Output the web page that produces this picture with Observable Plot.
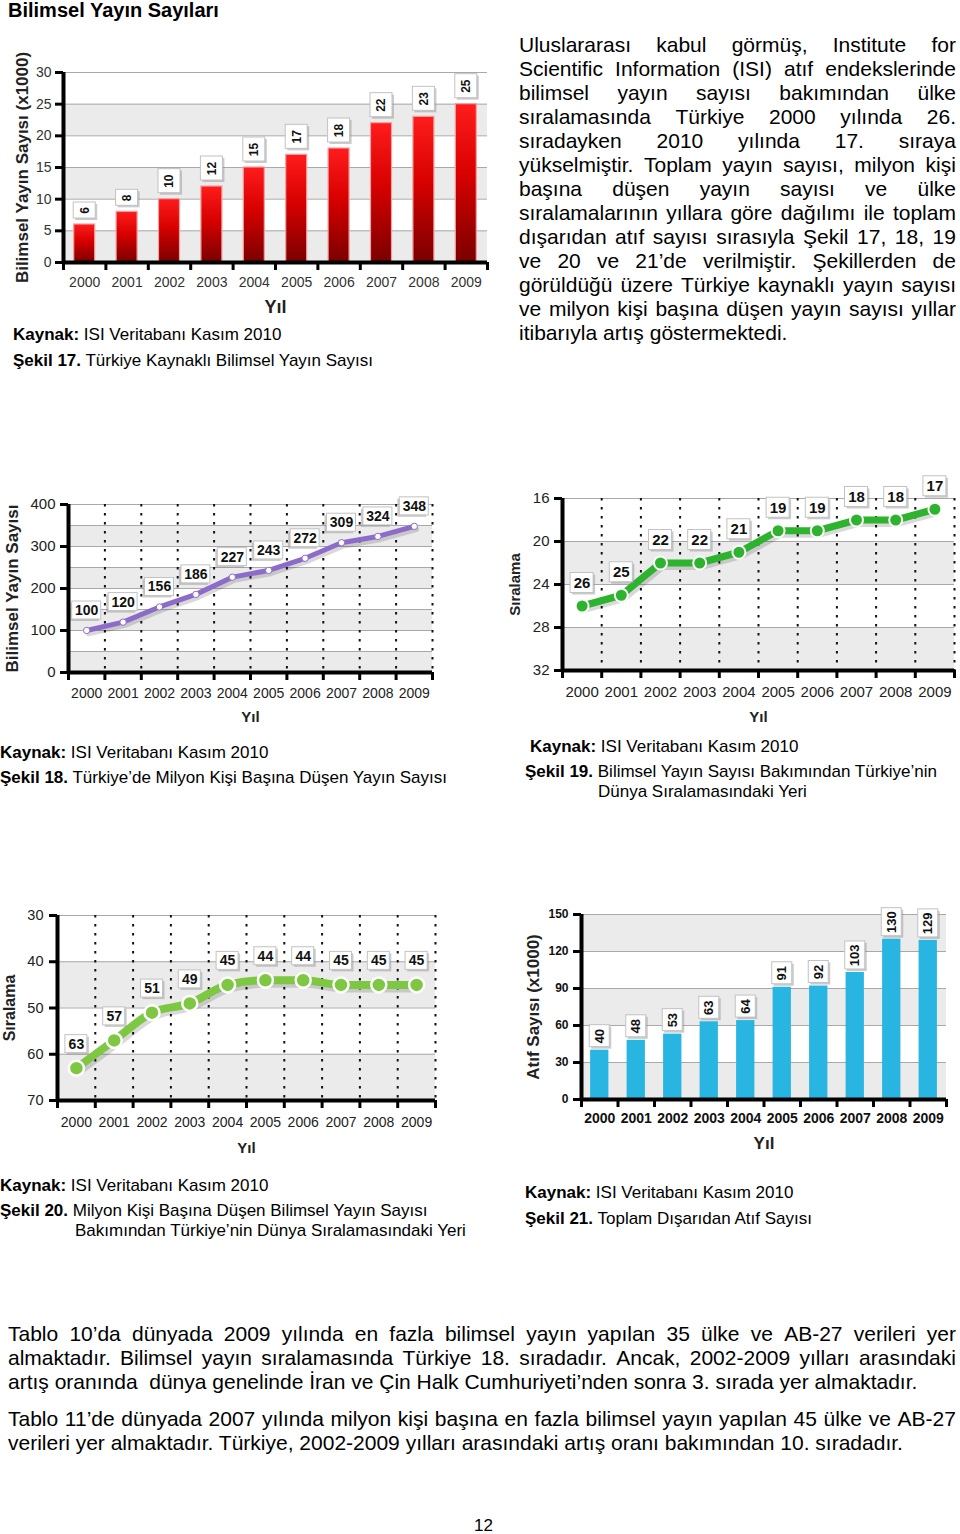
<!DOCTYPE html>
<html><head><meta charset="utf-8">
<script src="https://cdn.jsdelivr.net/npm/d3@7"></script>
<script src="https://cdn.jsdelivr.net/npm/@observablehq/plot@0.6"></script>
<style>
body{margin:0;background:#fff;}
#page{position:relative;width:960px;height:1534px;font-family:'Liberation Sans',Arial,Helvetica,sans-serif;color:#000;overflow:hidden;background:#fff;}
.abs{position:absolute;white-space:pre;}
.cap{font-size:17px;line-height:20px;}
.par{font-size:21px;line-height:24px;}
.jl{display:flex;justify-content:space-between;white-space:pre;}
</style></head><body><div id="page"></div>
<script>
// ---------------- DATA ----------------
const years = [2000, 2001, 2002, 2003, 2004, 2005, 2006, 2007, 2008, 2009];
const yayinSayisi = [6, 8, 10, 12, 15, 17, 18, 22, 23, 25];              // Şekil 17 (x1000)
const milyonBasina = [100, 120, 156, 186, 227, 243, 272, 309, 324, 348];  // Şekil 18
const siralamaYayin = [26, 25, 22, 22, 21, 19, 19, 18, 18, 17];           // Şekil 19
const siralamaMilyon = [63, 57, 51, 49, 45, 44, 44, 45, 45, 45];          // Şekil 20
const atifSayisi = [40, 48, 53, 63, 64, 91, 92, 103, 130, 129];           // Şekil 21 (x1000)

const ticks17 = [0, 5, 10, 15, 20, 25, 30];
const grid17 = [5, 10, 15, 20, 25, 30];
const bands17 = [[0, 5], [10, 15], [20, 25]];
const ticks18 = [0, 100, 200, 300, 400];
const grid18 = [50, 100, 150, 200, 250, 300, 350, 400];
const bands18 = [[0, 50], [100, 150], [200, 250], [300, 350]];
const ticks19 = [16, 20, 24, 28, 32];
const grid19 = [16, 20, 24, 28];
const bands19 = [[20, 24], [28, 32]];
const ticks20 = [30, 40, 50, 60, 70];
const grid20 = [30, 40, 50, 60];
const bands20 = [[40, 50], [60, 70]];
const ticks21 = [0, 30, 60, 90, 120, 150];
const grid21 = [30, 60, 90, 120, 150];
const bands21 = [[0, 30], [60, 90], [120, 150]];

const FONT = "'Liberation Sans', Arial, Helvetica, sans-serif";
const page = document.getElementById("page");
const bounds = years.map(y => y - 0.5).concat([years[years.length - 1] + 0.5]);
const table = vals => years.map((year, i) => ({year, value: vals[i], label: String(vals[i])}));

function addDiv(cls, left, top, html, extra) {
  const d = document.createElement("div");
  d.className = "abs " + cls;
  d.style.left = left + "px"; d.style.top = top + "px";
  if (extra) Object.assign(d.style, extra);
  d.innerHTML = html;
  page.appendChild(d);
  return d;
}
function place(svg, left, top) {
  const w = document.createElement("div");
  w.className = "abs"; w.style.left = left + "px"; w.style.top = top + "px";
  w.appendChild(svg); page.appendChild(w);
}
function addGradient(svg, id, stops) {
  const g = d3.select(svg).insert("defs", ":first-child").append("linearGradient")
    .attr("id", id).attr("x1", 0).attr("y1", 0).attr("x2", 0).attr("y2", 1);
  for (const [o, c] of stops) g.append("stop").attr("offset", o).attr("stop-color", c);
}

function base(o) {
  const m = [
    Plot.rect(o.bands, {y1: d => d[0], y2: d => d[1], fill: "#ebebeb"}),
    Plot.gridY(o.grid, {stroke: "#a9a9a9", strokeOpacity: 1, strokeWidth: 1})
  ];
  if (o.dotted) m.push(Plot.gridX(bounds.slice(1), {stroke: "#111", strokeOpacity: 1, strokeWidth: 2, strokeDasharray: "2.5,6.5"}));
  return m;
}
function axes(o) {
  return [
    Plot.ruleX([bounds[0]], {stroke: "#000", strokeWidth: 4}),
    Plot.ruleY([o.yBase], {stroke: "#000", strokeWidth: 4}),
    Plot.axisY(o.yTicks, {anchor: "left", tickSize: 8, tickPadding: o.yPad, strokeWidth: 3, stroke: "#000", color: o.color, fill: o.color, fontSize: o.yFont, fontWeight: o.bold ? "bold" : "normal", label: null}),
    Plot.axisX(bounds, {anchor: "bottom", tickSize: 8, strokeWidth: 3, stroke: "#000", tickFormat: () => "", label: null}),
    Plot.axisX(years, {anchor: "bottom", tickSize: 0, tickPadding: o.xPad, tickFormat: d => String(d), fontSize: o.xFont, fontWeight: o.bold ? "bold" : "normal", color: o.color, fill: o.color, label: null}),
    Plot.text([o.yLabel], {text: d => d, frameAnchor: "left", dx: o.yLabelDx, rotate: -90, textAnchor: "middle", lineAnchor: "middle", fontSize: o.yLabelSize, fontWeight: "bold", fill: "#222"}),
    Plot.text(["Yıl"], {text: d => d, frameAnchor: "bottom", dy: o.xLabelDy, textAnchor: "middle", lineAnchor: "middle", fontSize: o.xLabelSize, fontWeight: "bold", fill: "#222"})
  ];
}
function boxes(data, o) {
  const m = [];
  for (const [h, g] of d3.group(data, d => o.h(d.label))) {
    const ins = (o.band - o.w) / 2;
    const common = {x1: d => d.year - 0.5, x2: d => d.year + 0.5, y1: "value", y2: "value",
      insetLeft: ins, insetRight: ins, insetTop: -(o.gap + h), insetBottom: o.gap};
    m.push(Plot.rect(g, {...common, dx: o.sx, dy: o.sy, fill: "#8c8c8c", fillOpacity: 0.45}));
    m.push(Plot.rect(g, {...common, fill: "#fff", stroke: "#c2c2c2", strokeWidth: 1}));
    m.push(Plot.text(g, {x: "year", y: "value", text: "label", dy: -(o.gap + h / 2), rotate: o.rotate || 0,
      fontSize: o.fs, fontWeight: "bold", fill: "#111"}));
  }
  return m;
}
const style = {fontFamily: FONT, background: "transparent", maxWidth: "none", overflow: "visible"};

// ---------------- TEXT ----------------
addDiv("", 8, 0, "Bilimsel Yayın Sayıları", {fontSize: "20px", lineHeight: "20px", fontWeight: "bold"});

const rightLines = [
  "Uluslararası kabul görmüş, Institute for",
  "Scientific Information (ISI) atıf endekslerinde",
  "bilimsel yayın sayısı bakımından ülke",
  "sıralamasında Türkiye 2000 yılında 26.",
  "sıradayken 2010 yılında 17. sıraya",
  "yükselmiştir. Toplam yayın sayısı, milyon kişi",
  "başına düşen yayın sayısı ve ülke",
  "sıralamalarının yıllara göre dağılımı ile toplam",
  "dışarıdan atıf sayısı sırasıyla Şekil 17, 18, 19",
  "ve 20 ve 21’de verilmiştir. Şekillerden de",
  "görüldüğü üzere Türkiye kaynaklı yayın sayısı",
  "ve milyon kişi başına düşen yayın sayısı yıllar",
  "itibarıyla artış göstermektedi."
];
function justified(lines, left, top, width, lastIdx) {
  lines.forEach((ln, i) => {
    const d = addDiv("par", left, top + 24 * i, "", {width: width + "px"});
    if (lastIdx.includes(i)) { d.textContent = ln; }
    else {
      d.classList.add("jl");
      ln.split(" ").forEach(w => { const s = document.createElement("span"); s.textContent = w; d.appendChild(s); });
    }
  });
}
justified(rightLines, 519, 33, 437, [12]);

const para1 = [
  "Tablo 10’da dünyada 2009 yılında en fazla bilimsel yayın yapılan 35 ülke ve AB-27 verileri yer",
  "almaktadır. Bilimsel yayın sıralamasında Türkiye 18. sıradadır. Ancak, 2002-2009 yılları arasındaki",
  "artış oranında  dünya genelinde İran ve Çin Halk Cumhuriyeti’nden sonra 3. sırada yer almaktadır."
];
const para2 = [
  "Tablo 11’de dünyada 2007 yılında milyon kişi başına en fazla bilimsel yayın yapılan 45 ülke ve AB-27",
  "verileri yer almaktadır. Türkiye, 2002-2009 yılları arasındaki artış oranı bakımından 10. sıradadır."
];
justified(para1, 8, 1322, 948, [2]);
justified(para2, 8, 1407, 948, [1]);

const kaynak = "<b>Kaynak:</b> ISI Veritabanı Kasım 2010";
addDiv("cap", 13, 325, kaynak);
addDiv("cap", 13, 351, "<b>Şekil 17.</b> Türkiye Kaynaklı Bilimsel Yayın Sayısı");
addDiv("cap", 0, 743, kaynak);
addDiv("cap", 0, 768, "<b>Şekil 18.</b> Türkiye’de Milyon Kişi Başına Düşen Yayın Sayısı");
addDiv("cap", 530, 737, kaynak);
addDiv("cap", 525, 762, "<b>Şekil 19.</b> Bilimsel Yayın Sayısı Bakımından Türkiye’nin");
addDiv("cap", 598, 782, "Dünya Sıralamasındaki Yeri");
addDiv("cap", 0, 1176, kaynak);
addDiv("cap", 0, 1201, "<b>Şekil 20.</b> Milyon Kişi Başına Düşen Bilimsel Yayın Sayısı");
addDiv("cap", 75, 1221, "Bakımından Türkiye’nin Dünya Sıralamasındaki Yeri");
addDiv("cap", 525, 1183, kaynak);
addDiv("cap", 525, 1209, "<b>Şekil 21.</b> Toplam Dışarıdan Atıf Sayısı");
addDiv("", 474, 1520, "12", {fontSize: "17px", lineHeight: "12px"});

// ---------------- ŞEKİL 17 ----------------
{
  const data = table(yayinSayisi);
  const band = 42.4;
  const svg = Plot.plot({
    width: 500, height: 275, marginLeft: 63, marginRight: 13, marginTop: 22, marginBottom: 63,
    x: {domain: [bounds[0], bounds[bounds.length - 1]]}, y: {domain: [0, 30]}, style,
    marks: [
      ...base({bands: bands17, grid: grid17}),
      Plot.rect(data, {x1: d => d.year - 0.5, x2: d => d.year + 0.5, y1: 0, y2: "value",
        insetLeft: 10.7, insetRight: 10.7, fill: "url(#g17)", stroke: "#f0a0a0", strokeWidth: 1.2}),
      ...boxes(data, {band, w: 22, h: l => l.length === 1 ? 16 : 24, gap: 6, fs: 12, rotate: -90, sx: 2, sy: 2}),
      ...axes({yBase: 0, yTicks: ticks17, yPad: 4, yFont: 14, xFont: 14, xPad: 15, color: "#333",
        yLabel: "Bilimsel Yayın Sayısı (x1000)", yLabelDx: -41, yLabelSize: 17, xLabelDy: 45, xLabelSize: 18})
    ]
  });
  addGradient(svg, "g17", [[0, "#ff1c1c"], [0.45, "#d80000"], [1, "#7a0000"]]);
  place(svg, 0, 50);
}

// ---------------- ŞEKİL 18 ----------------
{
  const data = table(milyonBasina);
  const col = "#8c6cc8";
  const svg = Plot.plot({
    width: 445, height: 240, marginLeft: 68, marginRight: 13, marginTop: 14, marginBottom: 58,
    x: {domain: [bounds[0], bounds[bounds.length - 1]]}, y: {domain: [0, 400]}, style,
    marks: [
      ...base({bands: bands18, grid: grid18, dotted: true}),
      Plot.line(data, {x: "year", y: "value", stroke: "#000", strokeOpacity: 0.15, strokeWidth: 5.5, dx: 2, dy: 3}),
      Plot.line(data, {x: "year", y: "value", stroke: col, strokeWidth: 5, strokeLinejoin: "round"}),
      Plot.dot(data, {x: "year", y: "value", r: 3.2, fill: "#fff", stroke: col, strokeWidth: 1}),
      ...boxes(data, {band: 36.4, w: 29, h: () => 18, gap: 11, fs: 14, sx: -2, sy: 2}),
      ...axes({yBase: 0, yTicks: ticks18, yPad: 5, yFont: 15, xFont: 14, xPad: 16, color: "#222",
        yLabel: "Bilimsel Yayın Sayısı", yLabelDx: -56, yLabelSize: 17, xLabelDy: 45, xLabelSize: 15})
    ]
  });
  place(svg, 0, 490);
}

// ---------------- ŞEKİL 19 ----------------
{
  const data = table(siralamaYayin);
  const col = "#2db32d";
  const svg = Plot.plot({
    width: 460, height: 250, marginLeft: 62, marginRight: 6, marginTop: 18, marginBottom: 60,
    x: {domain: [bounds[0], bounds[bounds.length - 1]]}, y: {domain: [32, 16]}, style,
    marks: [
      ...base({bands: bands19, grid: grid19, dotted: true}),
      Plot.line(data, {x: "year", y: "value", stroke: "#000", strokeOpacity: 0.15, strokeWidth: 8, dx: 2, dy: 3, strokeLinejoin: "round"}),
      Plot.line(data, {x: "year", y: "value", stroke: col, strokeWidth: 7, strokeLinejoin: "round"}),
      Plot.dot(data, {x: "year", y: "value", r: 6.5, fill: col, stroke: "#fff", strokeWidth: 2}),
      ...boxes(data, {band: 39.2, w: 23, h: () => 20, gap: 13, fs: 15, sx: 2, sy: 2}),
      ...axes({yBase: 32, yTicks: ticks19, yPad: 5, yFont: 15, xFont: 15, xPad: 16, color: "#222",
        yLabel: "Sıralama", yLabelDx: -47, yLabelSize: 15, xLabelDy: 47, xLabelSize: 15})
    ]
  });
  place(svg, 500, 480);
}

// ---------------- ŞEKİL 20 ----------------
{
  const data = table(siralamaMilyon);
  const col = "#7dc742";
  const svg = Plot.plot({
    width: 450, height: 265, marginLeft: 57, marginRight: 15, marginTop: 15, marginBottom: 65,
    x: {domain: [bounds[0], bounds[bounds.length - 1]]}, y: {domain: [70, 30]}, style,
    marks: [
      ...base({bands: bands20, grid: grid20, dotted: true}),
      Plot.line(data, {x: "year", y: "value", curve: "monotone-x", stroke: "#000", strokeOpacity: 0.15, strokeWidth: 9, dx: 2, dy: 3}),
      Plot.line(data, {x: "year", y: "value", curve: "monotone-x", stroke: col, strokeWidth: 8, strokeLinejoin: "round"}),
      Plot.dot(data, {x: "year", y: "value", r: 7.5, fill: col, stroke: "#fff", strokeWidth: 2.5}),
      ...boxes(data, {band: 37.8, w: 22, h: () => 18, gap: 15, fs: 14, sx: 2, sy: 2}),
      ...axes({yBase: 70, yTicks: ticks20, yPad: 6, yFont: 14.5, xFont: 14, xPad: 17, color: "#222",
        yLabel: "Sıralama", yLabelDx: -48, yLabelSize: 16, xLabelDy: 48, xLabelSize: 15})
    ]
  });
  place(svg, 0, 900);
}

// ---------------- ŞEKİL 21 ----------------
{
  const data = table(atifSayisi);
  const svg = Plot.plot({
    width: 450, height: 260, marginLeft: 71, marginRight: 14, marginTop: 14, marginBottom: 61,
    x: {domain: [bounds[0], bounds[bounds.length - 1]]}, y: {domain: [0, 150]}, style,
    marks: [
      ...base({bands: bands21, grid: grid21}),
      Plot.rect(data, {x1: d => d.year - 0.5, x2: d => d.year + 0.5, y1: 0, y2: "value",
        insetLeft: 9.1, insetRight: 9.1, fill: "#29b5e2"}),
      ...boxes(data, {band: 36.5, w: 20, h: l => l.length === 2 ? 22 : 28, gap: 3, fs: 13, rotate: -90, sx: 2, sy: 2}),
      ...axes({yBase: 0, yTicks: ticks21, yPad: 5, yFont: 12, xFont: 14, xPad: 14, color: "#111", bold: true,
        yLabel: "Atıf Sayısı (x1000)", yLabelDx: -47.5, yLabelSize: 17, xLabelDy: 44, xLabelSize: 17})
    ]
  });
  place(svg, 510, 900);
}
</script>
</body></html>
